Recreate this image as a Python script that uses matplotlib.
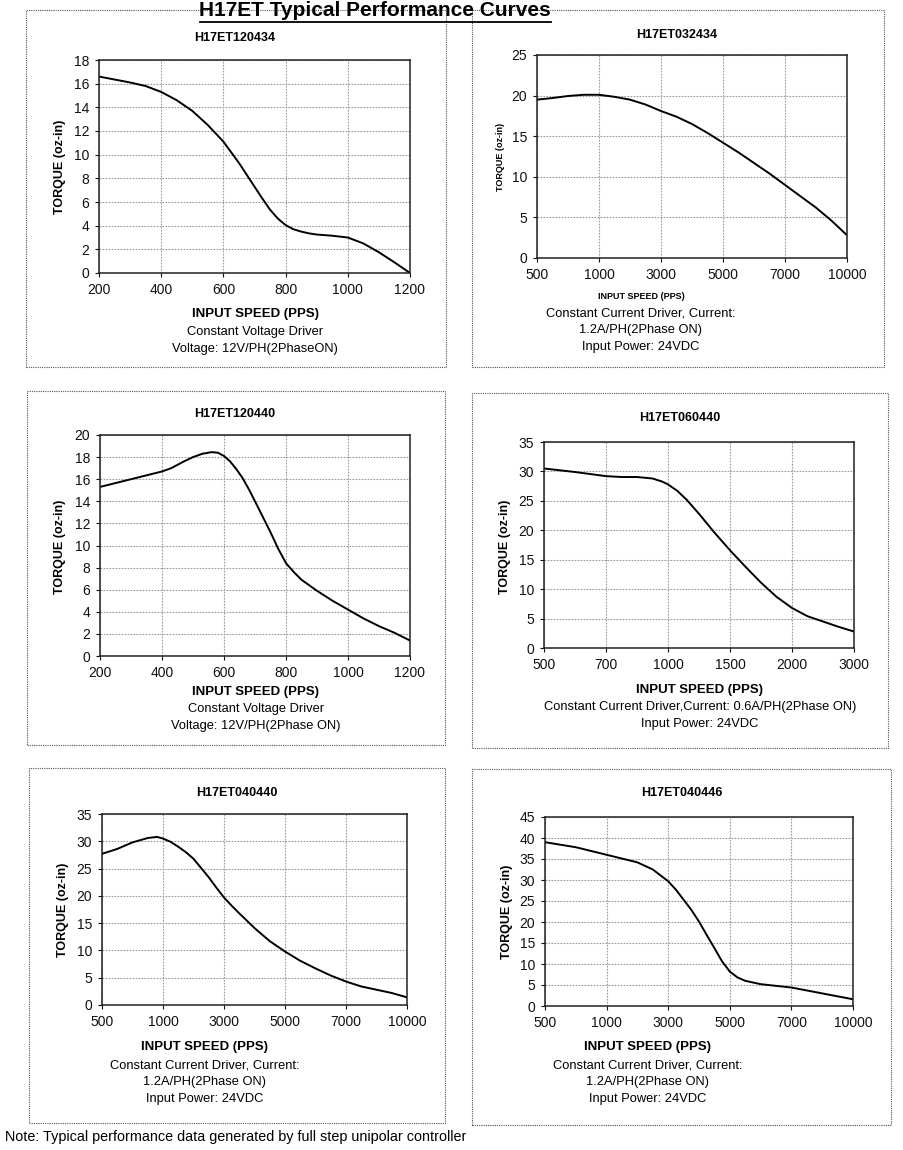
import matplotlib
matplotlib.use("Agg")
import matplotlib.pyplot as plt
from matplotlib.patches import Rectangle
from matplotlib.lines import Line2D

plt.rcParams['font.family'] = ['Liberation Sans', 'DejaVu Sans']

W, H = 904, 1150

# ---------------- Data ---------------- #
# H17ET120434 - linear speed axis
p1_x = [200, 250, 300, 350, 400, 450, 500, 550, 600, 625, 650, 675, 700, 725,
        750, 775, 800, 825, 850, 875, 900, 950, 1000, 1050, 1100, 1150, 1200]
p1_y = [16.6, 16.35, 16.1, 15.8, 15.3, 14.6, 13.7, 12.5, 11.1, 10.2, 9.3, 8.3,
        7.3, 6.3, 5.35, 4.6, 4.05, 3.7, 3.5, 3.35, 3.25, 3.15, 3.0, 2.5, 1.75,
        0.9, 0.0]

# H17ET032434 - category speed axis (positions of 500..10000 ticks)
p2_ticks = ["500", "1000", "3000", "5000", "7000", "10000"]
p2_x = [0, 0.25, 0.5, 0.75, 1, 1.25, 1.5, 1.75, 2, 2.25, 2.5, 2.75, 3,
        3.25, 3.5, 3.75, 4, 4.25, 4.5, 4.75, 5]
p2_y = [19.5, 19.7, 19.95, 20.1, 20.1, 19.85, 19.5, 18.9, 18.1, 17.4, 16.5,
        15.4, 14.2, 13.0, 11.7, 10.4, 9.0, 7.6, 6.2, 4.6, 2.8]

# H17ET120440
p3_x = [200, 250, 300, 350, 400, 430, 470, 500, 530, 560, 580, 600, 620, 640,
        660, 680, 700, 725, 750, 775, 800, 825, 850, 875, 900, 950, 1000, 1050,
        1100, 1150, 1200]
p3_y = [15.3, 15.65, 16.0, 16.35, 16.7, 17.0, 17.6, 18.0, 18.3, 18.45, 18.4,
        18.1, 17.6, 16.9, 16.1, 15.1, 14.0, 12.6, 11.2, 9.7, 8.4, 7.6, 6.9,
        6.4, 5.9, 5.0, 4.2, 3.4, 2.7, 2.1, 1.4]

# H17ET060440
p4_ticks = ["500", "700", "1000", "1500", "2000", "3000"]
p4_x = [0, 0.5, 1, 1.25, 1.5, 1.75, 1.9, 2, 2.15, 2.3, 2.5, 2.75, 3, 3.25,
        3.5, 3.75, 4, 4.25, 4.5, 4.75, 5]
p4_y = [30.5, 29.9, 29.2, 29.05, 29.05, 28.8, 28.3, 27.8, 26.7, 25.2, 22.8,
        19.6, 16.6, 13.8, 11.1, 8.7, 6.8, 5.4, 4.5, 3.6, 2.8]

# H17ET040440
p5_ticks = ["500", "1000", "3000", "5000", "7000", "10000"]
p5_x = [0, 0.25, 0.5, 0.75, 0.9, 1, 1.125, 1.25, 1.375, 1.5, 1.625, 1.75,
        1.875, 2, 2.125, 2.25, 2.5, 2.75, 3, 3.25, 3.5, 3.75, 4, 4.25, 4.5,
        4.75, 5]
p5_y = [27.7, 28.6, 29.8, 30.6, 30.8, 30.5, 29.9, 29.0, 28.0, 26.8, 25.1,
        23.4, 21.5, 19.7, 18.2, 16.8, 14.1, 11.7, 9.8, 8.1, 6.7, 5.4, 4.3,
        3.4, 2.8, 2.2, 1.4]

# H17ET040446
p6_ticks = ["500", "1000", "3000", "5000", "7000", "10000"]
p6_x = [0, 0.5, 1, 1.5, 1.75, 2, 2.125, 2.25, 2.375, 2.5, 2.625, 2.75,
        2.875, 3, 3.125, 3.25, 3.5, 3.75, 4, 4.5, 5]
p6_y = [39.0, 37.8, 36.0, 34.2, 32.5, 29.7, 27.7, 25.3, 22.9, 20.1, 16.9,
        13.8, 10.6, 8.2, 6.8, 6.0, 5.2, 4.8, 4.4, 3.0, 1.6]

# ---------------- Layout helpers ---------------- #
fig = plt.figure(figsize=(W / 100, H / 100), dpi=100)


def fx(px):
    return px / W


def fy(py):
    return 1 - py / H


def add_axes(l, t, r, b):
    return fig.add_axes([fx(l), fy(b), (r - l) / W, (b - t) / H])


def ftext(x, y, s, **kw):
    kw.setdefault('ha', 'center')
    kw.setdefault('va', 'center')
    fig.text(fx(x), fy(y), s, **kw)


def style_axes(ax, ymax, ystep):
    ax.set_ylim(0, ymax)
    ax.set_yticks(range(0, ymax + 1, ystep))
    ax.grid(True, color='#9a9a9a', linestyle=(0, (1.5, 1.2)), lw=0.8)
    ax.set_axisbelow(True)
    for sp in ax.spines.values():
        sp.set_color('#222222')
        sp.set_linewidth(1.1)
    ax.tick_params(direction='out', length=3, width=0.8, labelsize=10,
                   colors='#111111', pad=4)


panels = [
    dict(name="H17ET120434", x=p1_x, y=p1_y, ticks=None, xlim=(200, 1200),
         ymax=18, ystep=2, ax=(99, 60, 410, 273), box=(26, 10, 446, 367),
         title=(235, 38), ylab=(60, 167, 9), xlab=(255, 314, 9.5),
         subs=[(255, 332, "Constant Voltage Driver"),
               (255, 349, "Voltage: 12V/PH(2PhaseON)")]),
    dict(name="H17ET032434", x=p2_x, y=p2_y, ticks=p2_ticks, xlim=(0, 5),
         ymax=25, ystep=5, ax=(537, 55, 847, 258), box=(472, 10, 884, 367),
         title=(677, 35), ylab=(501, 157, 6.5), xlab=(641, 297, 6.5),
         subs=[(641, 313, "Constant Current Driver, Current:"),
               (641, 330, "1.2A/PH(2Phase ON)"),
               (641, 347, "Input Power: 24VDC")]),
    dict(name="H17ET120440", x=p3_x, y=p3_y, ticks=None, xlim=(200, 1200),
         ymax=20, ystep=2, ax=(100, 435, 410, 656), box=(27, 391, 445, 745),
         title=(235, 414), ylab=(60, 547, 9), xlab=(256, 692, 9.5),
         subs=[(256, 709, "Constant Voltage Driver"),
               (256, 726, "Voltage: 12V/PH(2Phase ON)")]),
    dict(name="H17ET060440", x=p4_x, y=p4_y, ticks=p4_ticks, xlim=(0, 5),
         ymax=35, ystep=5, ax=(544, 442, 854, 648), box=(472, 393, 888, 748),
         title=(680, 418), ylab=(505, 547, 9), xlab=(700, 690, 9.5),
         subs=[(700, 707, "Constant Current Driver,Current: 0.6A/PH(2Phase ON)"),
               (700, 724, "Input Power: 24VDC")]),
    dict(name="H17ET040440", x=p5_x, y=p5_y, ticks=p5_ticks, xlim=(0, 5),
         ymax=35, ystep=5, ax=(102, 814, 407, 1005), box=(29, 768, 445, 1123),
         title=(237, 793), ylab=(63, 910, 9), xlab=(205, 1047, 9.5),
         subs=[(205, 1065, "Constant Current Driver, Current:"),
               (205, 1082, "1.2A/PH(2Phase ON)"),
               (205, 1099, "Input Power: 24VDC")]),
    dict(name="H17ET040446", x=p6_x, y=p6_y, ticks=p6_ticks, xlim=(0, 5),
         ymax=45, ystep=5, ax=(545, 817, 853, 1006), box=(472, 769, 891, 1125),
         title=(682, 793), ylab=(507, 912, 9), xlab=(648, 1047, 9.5),
         subs=[(648, 1065, "Constant Current Driver, Current:"),
               (648, 1082, "1.2A/PH(2Phase ON)"),
               (648, 1099, "Input Power: 24VDC")]),
]

for p in panels:
    ax = add_axes(*p['ax'])
    ax.plot(p['x'], p['y'], color='black', lw=1.4, solid_joinstyle='round')
    ax.set_xlim(*p['xlim'])
    if p['ticks'] is None:
        ax.set_xticks(range(p['xlim'][0], p['xlim'][1] + 1, 200))
    else:
        ax.set_xticks(range(len(p['ticks'])))
        ax.set_xticklabels(p['ticks'])
    style_axes(ax, p['ymax'], p['ystep'])

    # dotted frame round each panel
    l, t, r, b = p['box']
    fig.add_artist(Rectangle((fx(l), fy(b)), (r - l) / W, (b - t) / H,
                             transform=fig.transFigure, fill=False,
                             edgecolor='#555555', lw=0.8, linestyle=(0, (1, 1))))

    ftext(*p['title'], p['name'], fontsize=9, fontweight='bold')
    yx, yy, ys = p['ylab']
    ftext(yx, yy, "TORQUE (oz-in)", fontsize=ys, fontweight='bold', rotation=90)
    xx, xy, xs = p['xlab']
    ftext(xx, xy, "INPUT SPEED (PPS)", fontsize=xs, fontweight='bold')
    for sx, sy, s in p['subs']:
        ftext(sx, sy, s, fontsize=9.3)

# main heading, underlined
ftext(375, 11, "H17ET Typical Performance Curves", fontsize=15, fontweight='bold')
fig.add_artist(Line2D([fx(200), fx(551)], [fy(22), fy(22)],
                      transform=fig.transFigure, color='black', lw=1.3))

ftext(5, 1137, "Note: Typical performance data generated by full step unipolar controller",
      fontsize=10.4, ha='left')

fig.savefig("out.png", dpi=100, facecolor='white')
